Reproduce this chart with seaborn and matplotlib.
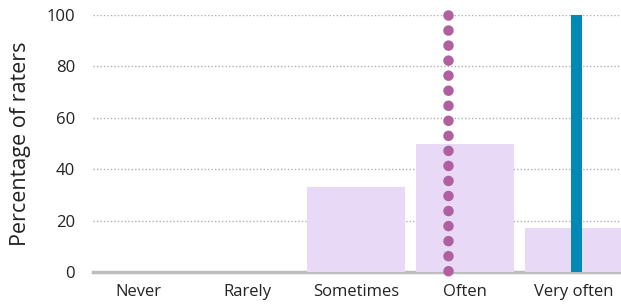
import pandas as pd
import seaborn as sns
import matplotlib.pyplot as plt

categories = ['Never', 'Rarely', 'Sometimes', 'Often', 'Very often']
percentages = [0, 0, 33, 50, 17]
dot_category = 'Often'
dot_value = 100
line_category = 'Very often'
line_value = 100
y_ticks = [0, 20, 40, 60, 80, 100]

df = pd.DataFrame({'category': categories, 'pct': percentages})

sns.set_style('white')
plt.rcParams['font.family'] = ['Open Sans', 'DejaVu Sans']

fig = plt.figure(figsize=(6.21, 3.07), dpi=100)
ax = fig.add_axes([93 / 621, 35 / 307, 528 / 621, 257 / 307])

sns.barplot(data=df, x='category', y='pct', order=categories, color='#e8daf7',
            width=0.9, saturation=1, linewidth=0, ax=ax, zorder=2)

# dotted purple marker line (drawn top-down) and thin blue bar
xd = categories.index(dot_category) - 0.155
ax.plot([xd, xd], [dot_value, 0], color='#b0609e', lw=7.6,
        linestyle=(0, (0.001, 1.424)), dash_capstyle='round', zorder=4, clip_on=False)
xl = categories.index(line_category) + 0.02
ax.bar([xl], [line_value], width=0.1, color='#0089b7', linewidth=0, zorder=3, clip_on=False)

ax.set_xlim(-0.413, 4.43)
ax.set_ylim(0, 100)
ax.set_yticks(y_ticks)
for y in y_ticks[1:]:
    ax.axhline(y, color='#b0b0b0', lw=1, ls=(0, (1, 1.5)), zorder=1)

for s in ['top', 'right', 'left']:
    ax.spines[s].set_visible(False)
ax.spines['bottom'].set_color('#bdbdbd')
ax.spines['bottom'].set_linewidth(2.5)
ax.spines['bottom'].set_zorder(1)

ax.tick_params(axis='both', length=0, labelsize=12, colors='#222222')
ax.tick_params(axis='x', pad=9)
ax.tick_params(axis='y', pad=13)
ax.set_xlabel('')
ax.set_ylabel('Percentage of raters', fontsize=15.5, labelpad=11, color='#222222')

fig.savefig('out.png', dpi=100)
